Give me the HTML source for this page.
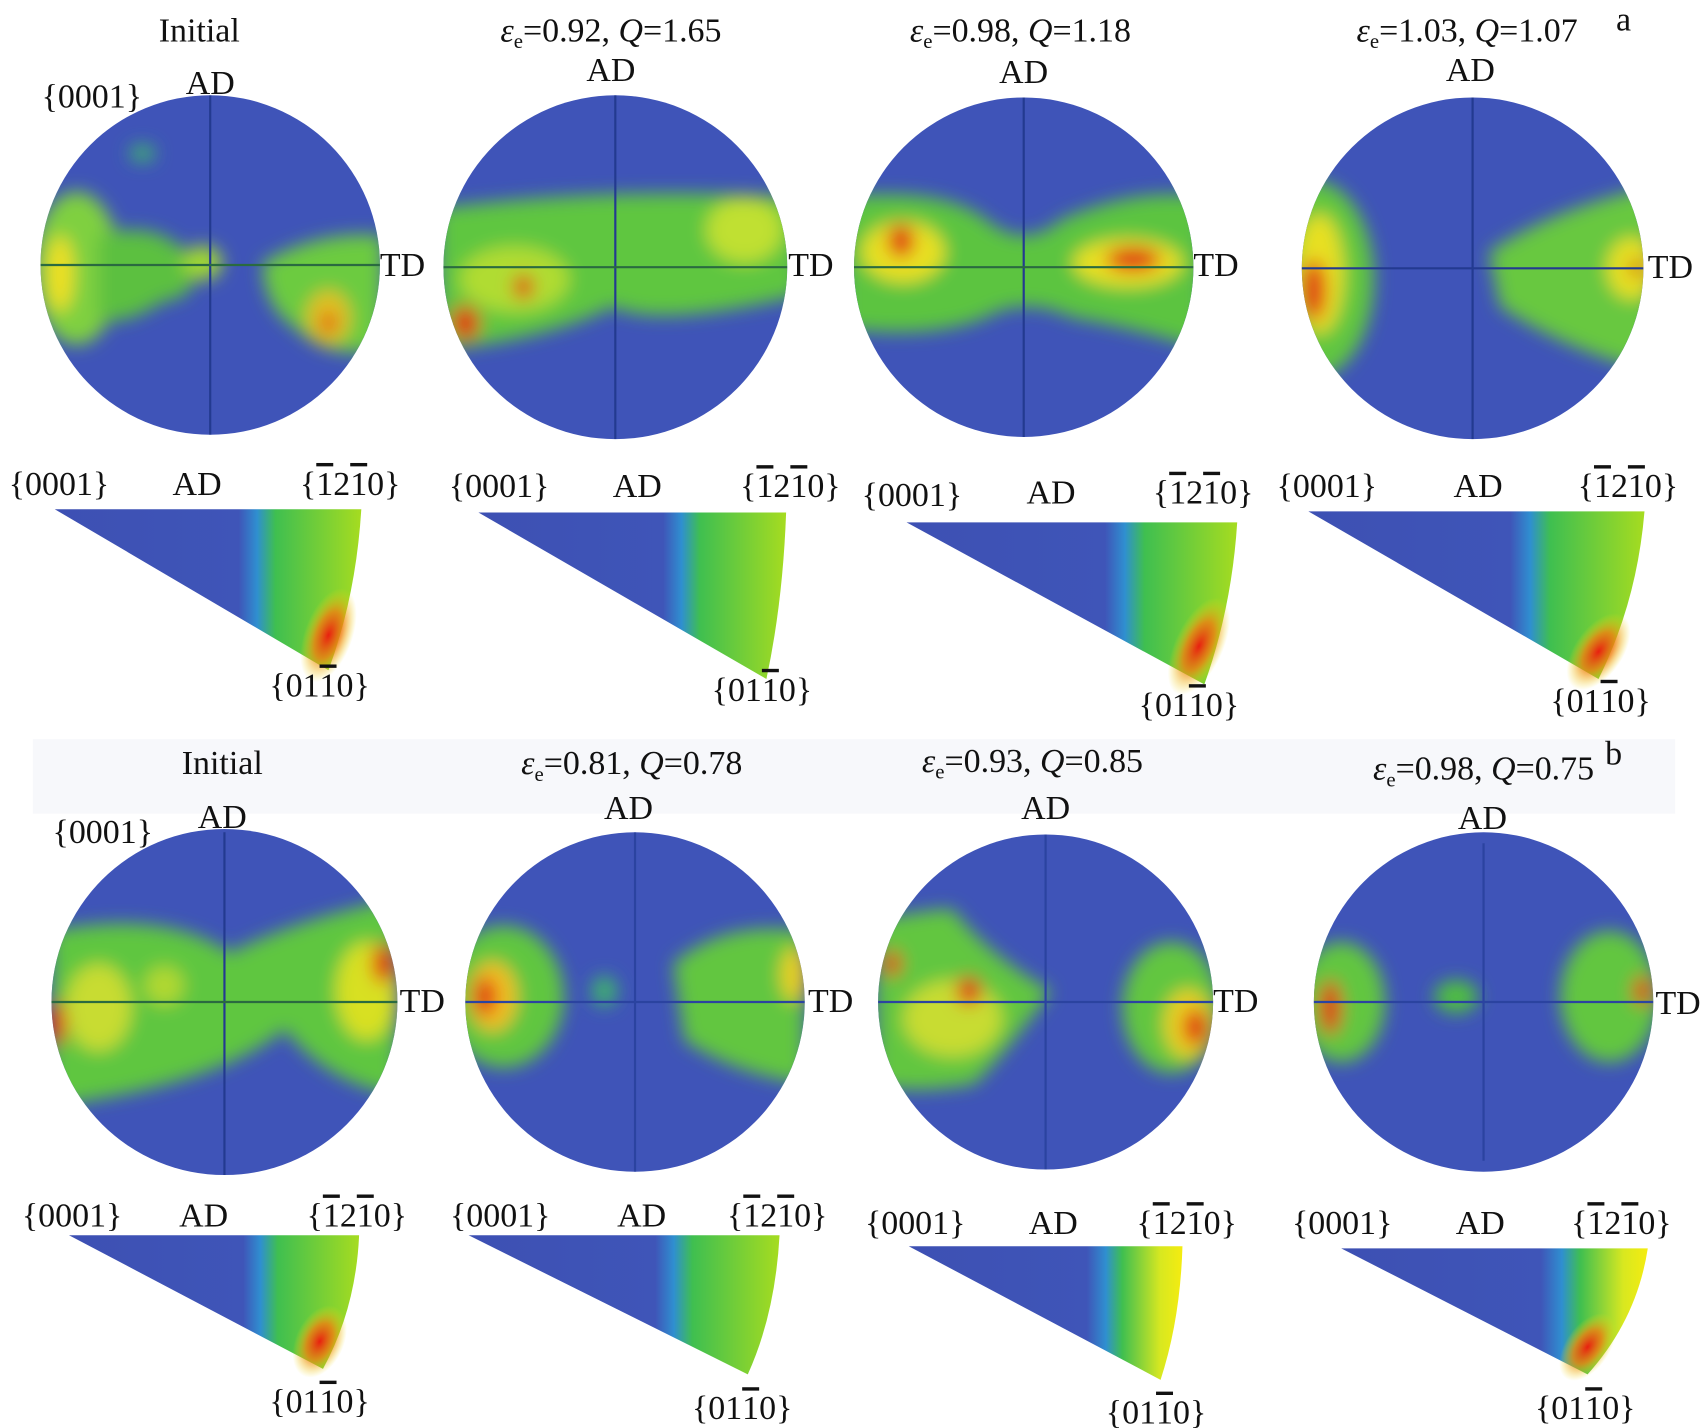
<!DOCTYPE html>
<html><head><meta charset="utf-8"><style>
html,body{margin:0;padding:0;background:#fff;}
svg{display:block;}
text{font-family:"Liberation Serif",serif;font-size:31px;fill:#111;}
</style></head><body>
<svg width="1708" height="1428" viewBox="0 0 1560 1304" preserveAspectRatio="none" xmlns="http://www.w3.org/2000/svg">
<defs>
<filter id="b" x="-50%" y="-50%" width="200%" height="200%"><feGaussianBlur stdDeviation="8"/></filter>
<linearGradient id="tg" x1="0" y1="0" x2="1" y2="0">
<stop offset="0" stop-color="#3d50b3"/><stop offset="0.6" stop-color="#3f55b8"/><stop offset="0.66" stop-color="#2f8fd0"/><stop offset="0.72" stop-color="#3fbf50"/><stop offset="1" stop-color="#a6dc20"/></linearGradient>
<linearGradient id="tg2" x1="0" y1="0" x2="1" y2="0">
<stop offset="0" stop-color="#3d50b3"/><stop offset="0.65" stop-color="#3f55b8"/><stop offset="0.72" stop-color="#2f8fd0"/><stop offset="0.78" stop-color="#3fbf50"/><stop offset="0.92" stop-color="#d8e820"/><stop offset="1" stop-color="#f5ec10"/></linearGradient>
<radialGradient id="rg"><stop offset="0" stop-color="#e82010"/><stop offset="0.5" stop-color="#f08010" stop-opacity="0.8"/><stop offset="1" stop-color="#f0e010" stop-opacity="0"/></radialGradient>
<clipPath id="c1"><circle cx="192" cy="242" r="155"/></clipPath>
<clipPath id="c2"><circle cx="562" cy="244" r="157"/></clipPath>
<clipPath id="c3"><circle cx="935" cy="244" r="155"/></clipPath>
<clipPath id="c4"><circle cx="1345" cy="245" r="156"/></clipPath>
<clipPath id="c5"><circle cx="205" cy="915" r="158"/></clipPath>
<clipPath id="c6"><circle cx="580" cy="915" r="155"/></clipPath>
<clipPath id="c7"><circle cx="955" cy="915" r="153"/></clipPath>
<clipPath id="c8"><circle cx="1355" cy="915" r="155"/></clipPath>
</defs>
<rect x="30" y="675" width="1500" height="68" fill="#f7f8fb"/>

<g clip-path="url(#c1)"><rect x="0" y="0" width="400" height="450" fill="#3f54b8"/>
<g filter="url(#b)"><ellipse cx="70" cy="245" rx="40" ry="70" fill="#7fd040"/><path d="M90 215 Q140 200 170 230 Q190 270 150 275 Q110 300 90 290 Z" fill="#5cc040"/><ellipse cx="185" cy="240" rx="18" ry="16" fill="#a0d830"/><path d="M240 240 Q290 210 350 215 L350 320 Q300 330 270 300 Q240 280 240 240Z" fill="#6ccb40"/><ellipse cx="300" cy="290" rx="20" ry="25" fill="#e0c020"/><ellipse cx="55" cy="250" rx="12" ry="35" fill="#f0e020"/><ellipse cx="300" cy="295" rx="7" ry="9" fill="#e03010"/><ellipse cx="130" cy="140" rx="12" ry="8" fill="#40b070"/></g>
<line x1="192" y1="87" x2="192" y2="397" stroke="#233a90" stroke-width="2"/><line x1="37" y1="242" x2="347" y2="242" stroke="#2a6a40" stroke-width="2"/></g>
<g clip-path="url(#c2)"><rect x="400" y="80" width="330" height="330" fill="#3f54b8"/>
<g filter="url(#b)"><path d="M400 190 Q560 170 730 180 L730 270 Q600 300 560 280 Q500 310 400 320 Z" fill="#5ec640"/><ellipse cx="470" cy="255" rx="50" ry="30" fill="#b0dc30"/><ellipse cx="680" cy="210" rx="35" ry="30" fill="#c0e030"/><ellipse cx="478" cy="262" rx="9" ry="11" fill="#e03010"/><ellipse cx="425" cy="295" rx="13" ry="16" fill="#e03010"/></g>
<line x1="562" y1="87" x2="562" y2="401" stroke="#233a90" stroke-width="2"/><line x1="405" y1="244" x2="719" y2="244" stroke="#2a6a40" stroke-width="2"/></g>
<g clip-path="url(#c3)"><rect x="770" y="80" width="330" height="330" fill="#3f54b8"/>
<g filter="url(#b)"><path d="M770 180 Q860 170 900 200 Q935 230 970 200 Q1040 170 1100 180 L1100 320 Q1040 300 980 290 Q935 270 900 290 Q850 310 770 300 Z" fill="#5cc440"/><ellipse cx="825" cy="230" rx="38" ry="28" fill="#e8e020"/><ellipse cx="1030" cy="240" rx="50" ry="22" fill="#e8e020"/><ellipse cx="823" cy="220" rx="12" ry="15" fill="#e02010"/><ellipse cx="1035" cy="237" rx="25" ry="11" fill="#e02010"/></g>
<line x1="935" y1="89" x2="935" y2="399" stroke="#233a90" stroke-width="2"/><line x1="780" y1="244" x2="1090" y2="244" stroke="#2a6a40" stroke-width="2"/></g>
<g clip-path="url(#c4)"><rect x="1180" y="80" width="330" height="330" fill="#3f54b8"/>
<g filter="url(#b)"><ellipse cx="1200" cy="255" rx="55" ry="90" fill="#60c640"/><ellipse cx="1205" cy="250" rx="22" ry="55" fill="#e8e020"/><ellipse cx="1200" cy="265" rx="11" ry="28" fill="#e02010"/><path d="M1360 230 Q1420 190 1510 170 L1510 340 Q1430 320 1370 280 Z" fill="#68c840"/><ellipse cx="1490" cy="245" rx="22" ry="28" fill="#e8e020"/><ellipse cx="1495" cy="245" rx="6" ry="8" fill="#c02010"/></g>
<line x1="1345" y1="89" x2="1345" y2="401" stroke="#233a90" stroke-width="2"/><line x1="1189" y1="245" x2="1501" y2="245" stroke="#233a90" stroke-width="2"/></g>

<g clip-path="url(#c5)"><rect x="40" y="750" width="330" height="330" fill="#3f54b8"/>
<g filter="url(#b)"><path d="M47 850 Q150 830 210 870 Q270 840 363 820 L363 1000 Q300 990 260 940 Q200 990 47 1010 Z" fill="#5ec640"/><ellipse cx="90" cy="920" rx="30" ry="40" fill="#c8dc30"/><ellipse cx="150" cy="900" rx="18" ry="18" fill="#b0d830"/><ellipse cx="335" cy="905" rx="28" ry="45" fill="#d8e020"/><ellipse cx="350" cy="880" rx="10" ry="18" fill="#e02010"/><ellipse cx="52" cy="935" rx="8" ry="20" fill="#e03010"/></g>
<line x1="205" y1="760" x2="205" y2="1073" stroke="#233a90" stroke-width="2"/><line x1="47" y1="915" x2="363" y2="915" stroke="#2a6a40" stroke-width="2"/></g>
<g clip-path="url(#c6)"><rect x="420" y="755" width="320" height="320" fill="#3f54b8"/>
<g filter="url(#b)"><ellipse cx="460" cy="910" rx="55" ry="65" fill="#60c640"/><ellipse cx="450" cy="910" rx="22" ry="32" fill="#f0c020"/><ellipse cx="443" cy="910" rx="10" ry="18" fill="#e02010"/><path d="M615 880 Q660 840 735 850 L735 990 Q670 980 625 950 Z" fill="#62c640"/><ellipse cx="725" cy="890" rx="12" ry="25" fill="#e8d020"/><ellipse cx="552" cy="905" rx="12" ry="14" fill="#40b070"/></g>
<line x1="580" y1="760" x2="580" y2="1070" stroke="#2b43a0" stroke-width="2"/><line x1="425" y1="915" x2="735" y2="915" stroke="#2b43a0" stroke-width="2"/></g>
<g clip-path="url(#c7)"><rect x="795" y="755" width="320" height="320" fill="#3f54b8"/>
<g filter="url(#b)"><path d="M800 840 Q850 830 870 830 Q900 870 960 905 Q920 960 890 990 Q830 1000 800 990 Z" fill="#62c640"/><ellipse cx="870" cy="930" rx="45" ry="35" fill="#c8dc30"/><ellipse cx="885" cy="905" rx="11" ry="13" fill="#e02010"/><ellipse cx="815" cy="880" rx="8" ry="12" fill="#e03010"/><ellipse cx="1070" cy="920" rx="45" ry="60" fill="#62c640"/><ellipse cx="1085" cy="935" rx="22" ry="32" fill="#e8d020"/><ellipse cx="1092" cy="938" rx="11" ry="17" fill="#e02010"/></g>
<line x1="955" y1="762" x2="955" y2="1068" stroke="#2b43a0" stroke-width="2"/><line x1="802" y1="915" x2="1108" y2="915" stroke="#2b43a0" stroke-width="2"/></g>
<g clip-path="url(#c8)"><rect x="1195" y="755" width="320" height="320" fill="#3f54b8"/>
<g filter="url(#b)"><ellipse cx="1225" cy="915" rx="40" ry="55" fill="#62c640"/><ellipse cx="1215" cy="920" rx="10" ry="25" fill="#e03010"/><ellipse cx="1330" cy="910" rx="20" ry="15" fill="#50c040"/><ellipse cx="1470" cy="910" rx="45" ry="60" fill="#62c640"/><ellipse cx="1500" cy="905" rx="8" ry="14" fill="#e03010"/></g>
<line x1="1355" y1="770" x2="1355" y2="1060" stroke="#2b43a0" stroke-width="2"/><line x1="1200" y1="915" x2="1510" y2="915" stroke="#2b43a0" stroke-width="2"/></g>

<path d="M50 465 L330 465 Q325 545 300 612 Z" fill="url(#tg)"/><ellipse cx="300" cy="580" rx="22" ry="45" fill="url(#rg)" transform="rotate(20 300 580)"/>
<path d="M437 468 L718 468 Q715 550 700 620 Z" fill="url(#tg)"/>
<path d="M828 477 L1130 477 Q1125 555 1100 625 Z" fill="url(#tg)"/><ellipse cx="1095" cy="590" rx="22" ry="48" fill="url(#rg)" transform="rotate(25 1095 590)"/>
<path d="M1195 467 L1502 467 Q1495 550 1460 620 Z" fill="url(#tg)"/><ellipse cx="1460" cy="595" rx="22" ry="40" fill="url(#rg)" transform="rotate(35 1460 595)"/>
<path d="M63 1128 L328 1128 Q325 1195 295 1250 Z" fill="url(#tg)"/><ellipse cx="292" cy="1225" rx="22" ry="35" fill="url(#rg)" transform="rotate(25 292 1225)"/>
<path d="M428 1128 L712 1128 Q708 1200 683 1255 Z" fill="url(#tg)"/>
<path d="M830 1138 L1080 1138 Q1078 1205 1060 1260 Z" fill="url(#tg2)"/>
<path d="M1225 1140 L1505 1140 Q1495 1205 1450 1255 Z" fill="url(#tg2)"/><ellipse cx="1450" cy="1230" rx="20" ry="35" fill="url(#rg)" transform="rotate(35 1450 1230)"/>

<text x="182" y="38" text-anchor="middle">Initial</text>
<text x="558" y="38" text-anchor="middle"><tspan font-style="italic">ε</tspan><tspan font-size="19" dy="6">e</tspan><tspan dy="-6">=0.92, </tspan><tspan font-style="italic">Q</tspan>=1.65</text>
<text x="932" y="38" text-anchor="middle"><tspan font-style="italic">ε</tspan><tspan font-size="19" dy="6">e</tspan><tspan dy="-6">=0.98, </tspan><tspan font-style="italic">Q</tspan>=1.18</text>
<text x="1340" y="38" text-anchor="middle"><tspan font-style="italic">ε</tspan><tspan font-size="19" dy="6">e</tspan><tspan dy="-6">=1.03, </tspan><tspan font-style="italic">Q</tspan>=1.07</text>
<text x="1476" y="28">a</text>
<text x="192" y="86" text-anchor="middle">AD</text><text x="558" y="74" text-anchor="middle">AD</text><text x="935" y="76" text-anchor="middle">AD</text><text x="1343" y="74" text-anchor="middle">AD</text>
<text x="38" y="98">{0001}</text>
<text x="347" y="252">TD</text><text x="720" y="252">TD</text><text x="1090" y="252">TD</text><text x="1505" y="254">TD</text>
<g>
<text x="8" y="452">{0001}</text><text x="180" y="452" text-anchor="middle">AD</text><text x="274" y="452">{<tspan text-decoration="overline">1</tspan>2<tspan text-decoration="overline">1</tspan>0}</text><text x="246" y="636">{01<tspan text-decoration="overline">1</tspan>0}</text>
<text x="410" y="454">{0001}</text><text x="582" y="454" text-anchor="middle">AD</text><text x="676" y="454">{<tspan text-decoration="overline">1</tspan>2<tspan text-decoration="overline">1</tspan>0}</text><text x="650" y="640">{01<tspan text-decoration="overline">1</tspan>0}</text>
<text x="787" y="462">{0001}</text><text x="960" y="460" text-anchor="middle">AD</text><text x="1053" y="460">{<tspan text-decoration="overline">1</tspan>2<tspan text-decoration="overline">1</tspan>0}</text><text x="1040" y="654">{01<tspan text-decoration="overline">1</tspan>0}</text>
<text x="1166" y="454">{0001}</text><text x="1350" y="454" text-anchor="middle">AD</text><text x="1441" y="454">{<tspan text-decoration="overline">1</tspan>2<tspan text-decoration="overline">1</tspan>0}</text><text x="1416" y="650">{01<tspan text-decoration="overline">1</tspan>0}</text>
</g>
<text x="203" y="707" text-anchor="middle">Initial</text>
<text x="577" y="707" text-anchor="middle"><tspan font-style="italic">ε</tspan><tspan font-size="19" dy="6">e</tspan><tspan dy="-6">=0.81, </tspan><tspan font-style="italic">Q</tspan>=0.78</text>
<text x="943" y="705" text-anchor="middle"><tspan font-style="italic">ε</tspan><tspan font-size="19" dy="6">e</tspan><tspan dy="-6">=0.93, </tspan><tspan font-style="italic">Q</tspan>=0.85</text>
<text x="1355" y="712" text-anchor="middle"><tspan font-style="italic">ε</tspan><tspan font-size="19" dy="6">e</tspan><tspan dy="-6">=0.98, </tspan><tspan font-style="italic">Q</tspan>=0.75</text>
<text x="1466" y="698">b</text>
<text x="203" y="756" text-anchor="middle">AD</text><text x="574" y="748" text-anchor="middle">AD</text><text x="955" y="748" text-anchor="middle">AD</text><text x="1354" y="757" text-anchor="middle">AD</text>
<text x="48" y="770">{0001}</text>
<text x="365" y="924">TD</text><text x="738" y="924">TD</text><text x="1108" y="924">TD</text><text x="1512" y="926">TD</text>
<g>
<text x="20" y="1120">{0001}</text><text x="186" y="1120" text-anchor="middle">AD</text><text x="280" y="1120">{<tspan text-decoration="overline">1</tspan>2<tspan text-decoration="overline">1</tspan>0}</text><text x="246" y="1290">{01<tspan text-decoration="overline">1</tspan>0}</text>
<text x="411" y="1120">{0001}</text><text x="586" y="1120" text-anchor="middle">AD</text><text x="664" y="1120">{<tspan text-decoration="overline">1</tspan>2<tspan text-decoration="overline">1</tspan>0}</text><text x="632" y="1296">{01<tspan text-decoration="overline">1</tspan>0}</text>
<text x="790" y="1127">{0001}</text><text x="962" y="1127" text-anchor="middle">AD</text><text x="1038" y="1127">{<tspan text-decoration="overline">1</tspan>2<tspan text-decoration="overline">1</tspan>0}</text><text x="1010" y="1300">{01<tspan text-decoration="overline">1</tspan>0}</text>
<text x="1180" y="1127">{0001}</text><text x="1352" y="1127" text-anchor="middle">AD</text><text x="1435" y="1127">{<tspan text-decoration="overline">1</tspan>2<tspan text-decoration="overline">1</tspan>0}</text><text x="1402" y="1296">{01<tspan text-decoration="overline">1</tspan>0}</text>
</g>
</svg>
</body></html>
